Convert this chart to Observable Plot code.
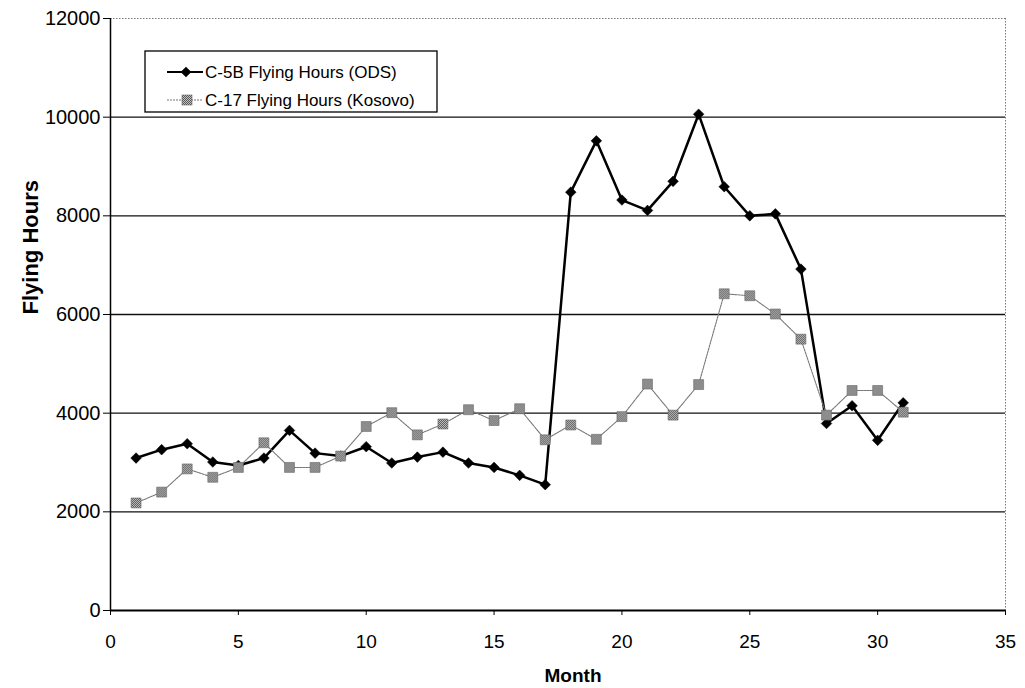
<!DOCTYPE html>
<html>
<head>
<meta charset="utf-8">
<script src="https://cdn.jsdelivr.net/npm/d3@7"></script>
<script src="https://cdn.jsdelivr.net/npm/@observablehq/plot@0.6"></script>
<style>
  html, body { margin: 0; padding: 0; background: #fff; }
  #chart { width: 1025px; height: 688px; }
</style>
</head>
<body>
<div id="chart"></div>
<script>
// ---- data ----
const months = [1,2,3,4,5,6,7,8,9,10,11,12,13,14,15,16,17,18,19,20,21,22,23,24,25,26,27,28,29,30,31];
const c5bHours = [3090,3260,3380,3010,2940,3090,3650,3190,3130,3320,2990,3110,3210,2990,2900,2740,2550,8480,9520,8320,8110,8700,10060,8590,8000,8040,6920,3790,4150,3450,4210];
const c17Hours = [2180,2400,2870,2700,2900,3400,2900,2900,3130,3730,4010,3560,3780,4070,3850,4090,3460,3760,3470,3930,4590,3960,4580,6420,6380,6010,5500,3960,4460,4460,4020];
const seriesNames = ["C-5B Flying Hours (ODS)", "C-17 Flying Hours (Kosovo)"];
const xTicks = [0,5,10,15,20,25,30,35];
const yTicks = [0,2000,4000,6000,8000,10000,12000];
const gridValues = [2000,4000,6000,8000,10000];
const xTitle = "Month";
const yTitle = "Flying Hours";

const c5b = months.map((m, i) => ({month: m, hours: c5bHours[i]}));
const c17 = months.map((m, i) => ({month: m, hours: c17Hours[i]}));

const FONT = "'Liberation Sans', Arial, Helvetica, sans-serif";

const chart = Plot.plot({
  width: 1025,
  height: 688,
  marginLeft: 110,
  marginRight: 20,
  marginTop: 18,
  marginBottom: 78,
  style: {fontFamily: FONT, fontSize: "18px", color: "#000", background: "#fff"},
  x: {domain: [0, 35]},
  y: {domain: [0, 12000]},
  marks: [
    Plot.ruleY(gridValues, {stroke: "#111", strokeWidth: 1.4}),
    Plot.ruleY([yTicks[yTicks.length - 1]], {stroke: "#777", strokeWidth: 1, strokeDasharray: "1.5,1.5"}),
    Plot.ruleX([xTicks[xTicks.length - 1]], {stroke: "#777", strokeWidth: 1, strokeDasharray: "1.5,1.5"}),
    Plot.ruleX([0], {stroke: "#000", strokeWidth: 1.5}),
    Plot.ruleY([0], {stroke: "#000", strokeWidth: 2}),
    Plot.axisY({ticks: yTicks, tickSize: 7, tickPadding: 3, tickFormat: d => String(d), fontSize: 20, label: null, stroke: "#000"}),
    Plot.axisX({ticks: xTicks, tickSize: 5, tickPadding: 19, tickFormat: d => String(d), fontSize: 19, label: null, stroke: "#000"}),
    Plot.text([yTitle], {frameAnchor: "left", rotate: -90, dx: -80, fontSize: 22, fontWeight: "bold", fill: "#000"}),
    Plot.text([xTitle], {frameAnchor: "bottom", dx: 15, dy: 71, fontSize: 19, fontWeight: "bold", fill: "#000"}),
    Plot.line(c5b, {x: "month", y: "hours", stroke: "#000", strokeWidth: 2.5}),
    Plot.dot(c5b, {x: "month", y: "hours", symbol: "diamond2", r: 4.8, fill: "#000", stroke: "#000", strokeWidth: 0.5}),
    Plot.line(c17, {x: "month", y: "hours", stroke: "#777", strokeWidth: 1.1, strokeDasharray: "2,1"}),
    Plot.dot(c17, {x: "month", y: "hours", symbol: "square", r: 5.6, fill: "url(#checker)", stroke: "#666", strokeWidth: 0.6})
  ]
});

document.getElementById("chart").appendChild(chart);

// ---- pattern + legend ----
const svg = d3.select(chart);
const defs = svg.insert("defs", ":first-child");
const pat = defs.append("pattern").attr("id", "checker").attr("patternUnits", "userSpaceOnUse")
  .attr("width", 2).attr("height", 2);
pat.append("rect").attr("width", 2).attr("height", 2).attr("fill", "#c4c4c4");
pat.append("rect").attr("x", 0).attr("y", 0).attr("width", 1).attr("height", 1).attr("fill", "#555");
pat.append("rect").attr("x", 1).attr("y", 1).attr("width", 1).attr("height", 1).attr("fill", "#555");

const lg = svg.append("g").attr("font-family", FONT).attr("text-anchor", "start");
lg.append("rect").attr("x", 145).attr("y", 51).attr("width", 292).attr("height", 61)
  .attr("fill", "#fff").attr("stroke", "#000").attr("stroke-width", 1.3);
// row 1
lg.append("line").attr("x1", 167).attr("x2", 203).attr("y1", 72).attr("y2", 72)
  .attr("stroke", "#000").attr("stroke-width", 2.2);
lg.append("path").attr("d", d3.symbol(d3.symbolDiamond2, Math.PI * 4.8 * 4.8)())
  .attr("transform", "translate(186,72)").attr("fill", "#000");
lg.append("text").attr("x", 205).attr("y", 72).attr("dy", "0.35em").attr("font-size", 17)
  .attr("text-anchor", "start").text(seriesNames[0]);
// row 2
lg.append("line").attr("x1", 167).attr("x2", 203).attr("y1", 100).attr("y2", 100)
  .attr("stroke", "#777").attr("stroke-width", 1.1).attr("stroke-dasharray", "2,1");
lg.append("rect").attr("x", 182).attr("y", 95).attr("width", 10).attr("height", 10)
  .attr("fill", "url(#checker)").attr("stroke", "#666").attr("stroke-width", 0.6);
lg.append("text").attr("x", 205).attr("y", 100).attr("dy", "0.35em").attr("font-size", 17)
  .attr("text-anchor", "start").text(seriesNames[1]);
</script>
</body>
</html>
